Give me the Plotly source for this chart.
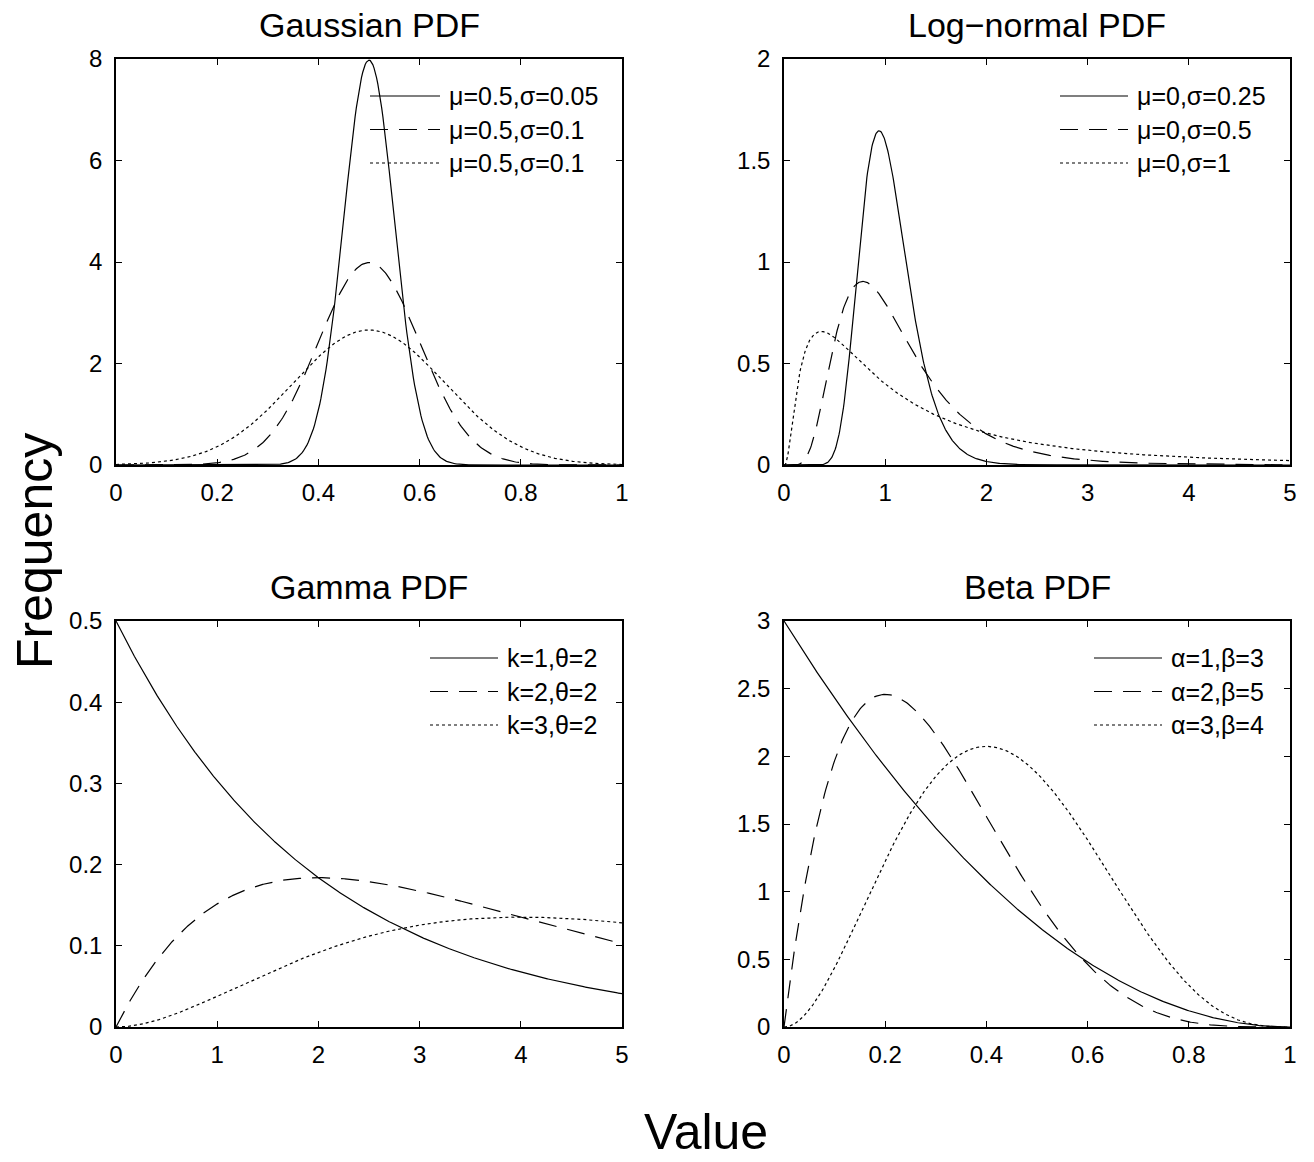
import math
import numpy as np
import plotly.graph_objects as go

# ---- distribution parameters shown in each panel ----
gauss_mu = [0.5, 0.5, 0.5]
gauss_sigma = [0.05, 0.1, 0.15]
gauss_labels = ["μ=0.5,σ=0.05", "μ=0.5,σ=0.1", "μ=0.5,σ=0.1"]

logn_mu = [0.0, 0.0, 0.0]
logn_sigma = [0.25, 0.5, 1.0]
logn_labels = ["μ=0,σ=0.25", "μ=0,σ=0.5", "μ=0,σ=1"]

gamma_k = [1, 2, 3]
gamma_theta = [2, 2, 2]
gamma_labels = ["k=1,θ=2", "k=2,θ=2", "k=3,θ=2"]

beta_a = [1, 2, 3]
beta_b = [3, 5, 4]
beta_labels = ["α=1,β=3", "α=2,β=5", "α=3,β=4"]

titles = ["Gaussian PDF", "Log−normal PDF", "Gamma PDF", "Beta PDF"]
x_ranges = [[0, 1], [0, 5], [0, 5], [0, 1]]
y_ranges = [[0, 8], [0, 2], [0, 0.5], [0, 3]]
x_dticks = [0.2, 1, 1, 0.2]
y_dticks = [2, 0.5, 0.1, 0.5]

# ---- density functions ----
def gauss_pdf(x, mu, s):
    return np.exp(-(x - mu) ** 2 / (2 * s * s)) / (s * math.sqrt(2 * math.pi))

def logn_pdf(x, mu, s):
    out = np.zeros_like(x)
    m = x > 0
    xm = x[m]
    out[m] = np.exp(-(np.log(xm) - mu) ** 2 / (2 * s * s)) / (xm * s * math.sqrt(2 * math.pi))
    return out

def gamma_pdf(x, k, th):
    return x ** (k - 1) * np.exp(-x / th) / (math.gamma(k) * th ** k)

def beta_pdf(x, a, b):
    B = math.gamma(a) * math.gamma(b) / math.gamma(a + b)
    return x ** (a - 1) * (1 - x) ** (b - 1) / B

x01 = np.linspace(0, 1, 401)
x05 = np.linspace(0, 5, 801)

panels = [
    (x01, [gauss_pdf(x01, m, s) for m, s in zip(gauss_mu, gauss_sigma)], gauss_labels),
    (x05, [logn_pdf(x05, m, s) for m, s in zip(logn_mu, logn_sigma)], logn_labels),
    (x05, [gamma_pdf(x05, k, t) for k, t in zip(gamma_k, gamma_theta)], gamma_labels),
    (x01, [beta_pdf(x01, a, b) for a, b in zip(beta_a, beta_b)], beta_labels),
]

W, H = 1314, 1162
FONT = "Liberation Sans, Arial, Helvetica, sans-serif"
dashes = ["solid", "18px,11px", "3px,3px"]

# panel boxes in pixels: (left, right, top, bottom)
boxes = [(116, 622, 59, 465), (784, 1290, 59, 465),
         (116, 622, 621, 1027), (784, 1290, 621, 1027)]
# legend sample start x, sample end x (pixels) and first row y
legend_pos = [(370, 440, 96), (1060, 1128, 96), (430, 498, 658), (1094, 1162, 658)]

fig = go.Figure()
layout = dict(
    width=W, height=H, margin=dict(l=0, r=0, t=0, b=0, pad=0, autoexpand=False),
    paper_bgcolor="white", plot_bgcolor="white", showlegend=False,
    font=dict(family=FONT, color="black"),
)
annotations = []
shapes = []

for i, (xs, ys_list, labels) in enumerate(panels):
    n = i + 1
    xa = "x" if n == 1 else f"x{n}"
    ya = "y" if n == 1 else f"y{n}"
    for ys, lab, d in zip(ys_list, labels, dashes):
        fig.add_trace(go.Scatter(x=xs, y=ys, mode="lines", name=lab,
                                 line=dict(color="black", width=1.2, dash=d),
                                 xaxis=xa, yaxis=ya, hoverinfo="skip"))
    l, r, t, b = boxes[i]
    common = dict(showline=True, linecolor="black", linewidth=1.5, mirror="ticks",
                  ticks="inside", ticklen=6, tickwidth=1.2, tickcolor="black",
                  showgrid=False, zeroline=False, automargin=False,
                  tickfont=dict(family=FONT, size=24, color="black"))
    layout["xaxis" if n == 1 else f"xaxis{n}"] = dict(
        domain=[l / W, r / W], range=x_ranges[i], dtick=x_dticks[i], tick0=0,
        anchor=ya, ticklabelstandoff=5, **common)
    layout["yaxis" if n == 1 else f"yaxis{n}"] = dict(
        domain=[1 - b / H, 1 - t / H], range=y_ranges[i], dtick=y_dticks[i], tick0=0,
        anchor=xa, ticklabelstandoff=7, **common)
    # panel title
    annotations.append(dict(text=titles[i], x=(l + r) / 2 / W, y=1 - (t - 13) / H,
                            xref="paper", yref="paper", xanchor="center", yanchor="bottom",
                            showarrow=False, font=dict(family=FONT, size=34, color="black")))
    # legend: line sample + label per series
    sx0, sx1, ry = legend_pos[i]
    for j, (lab, d) in enumerate(zip(labels, dashes)):
        yy = 1 - (ry + j * 33.5) / H
        shapes.append(dict(type="line", xref="paper", yref="paper",
                           x0=sx0 / W, x1=sx1 / W, y0=yy, y1=yy,
                           line=dict(color="black", width=1.2, dash=d)))
        annotations.append(dict(text=lab, x=(sx1 + 7) / W, y=yy, xref="paper", yref="paper",
                                xanchor="left", yanchor="middle", showarrow=False,
                                font=dict(family=FONT, size=25, color="black")))

annotations.append(dict(text="Frequency", x=35 / W, y=1 - 551 / H, xref="paper", yref="paper",
                        xanchor="center", yanchor="middle", textangle=-90, showarrow=False,
                        font=dict(family=FONT, size=50, color="black")))
annotations.append(dict(text="Value", x=706 / W, y=0.0, xref="paper", yref="paper",
                        xanchor="center", yanchor="bottom", showarrow=False,
                        font=dict(family=FONT, size=50, color="black")))

layout["annotations"] = annotations
layout["shapes"] = shapes
fig.update_layout(**layout)
fig.write_html("out.html")
